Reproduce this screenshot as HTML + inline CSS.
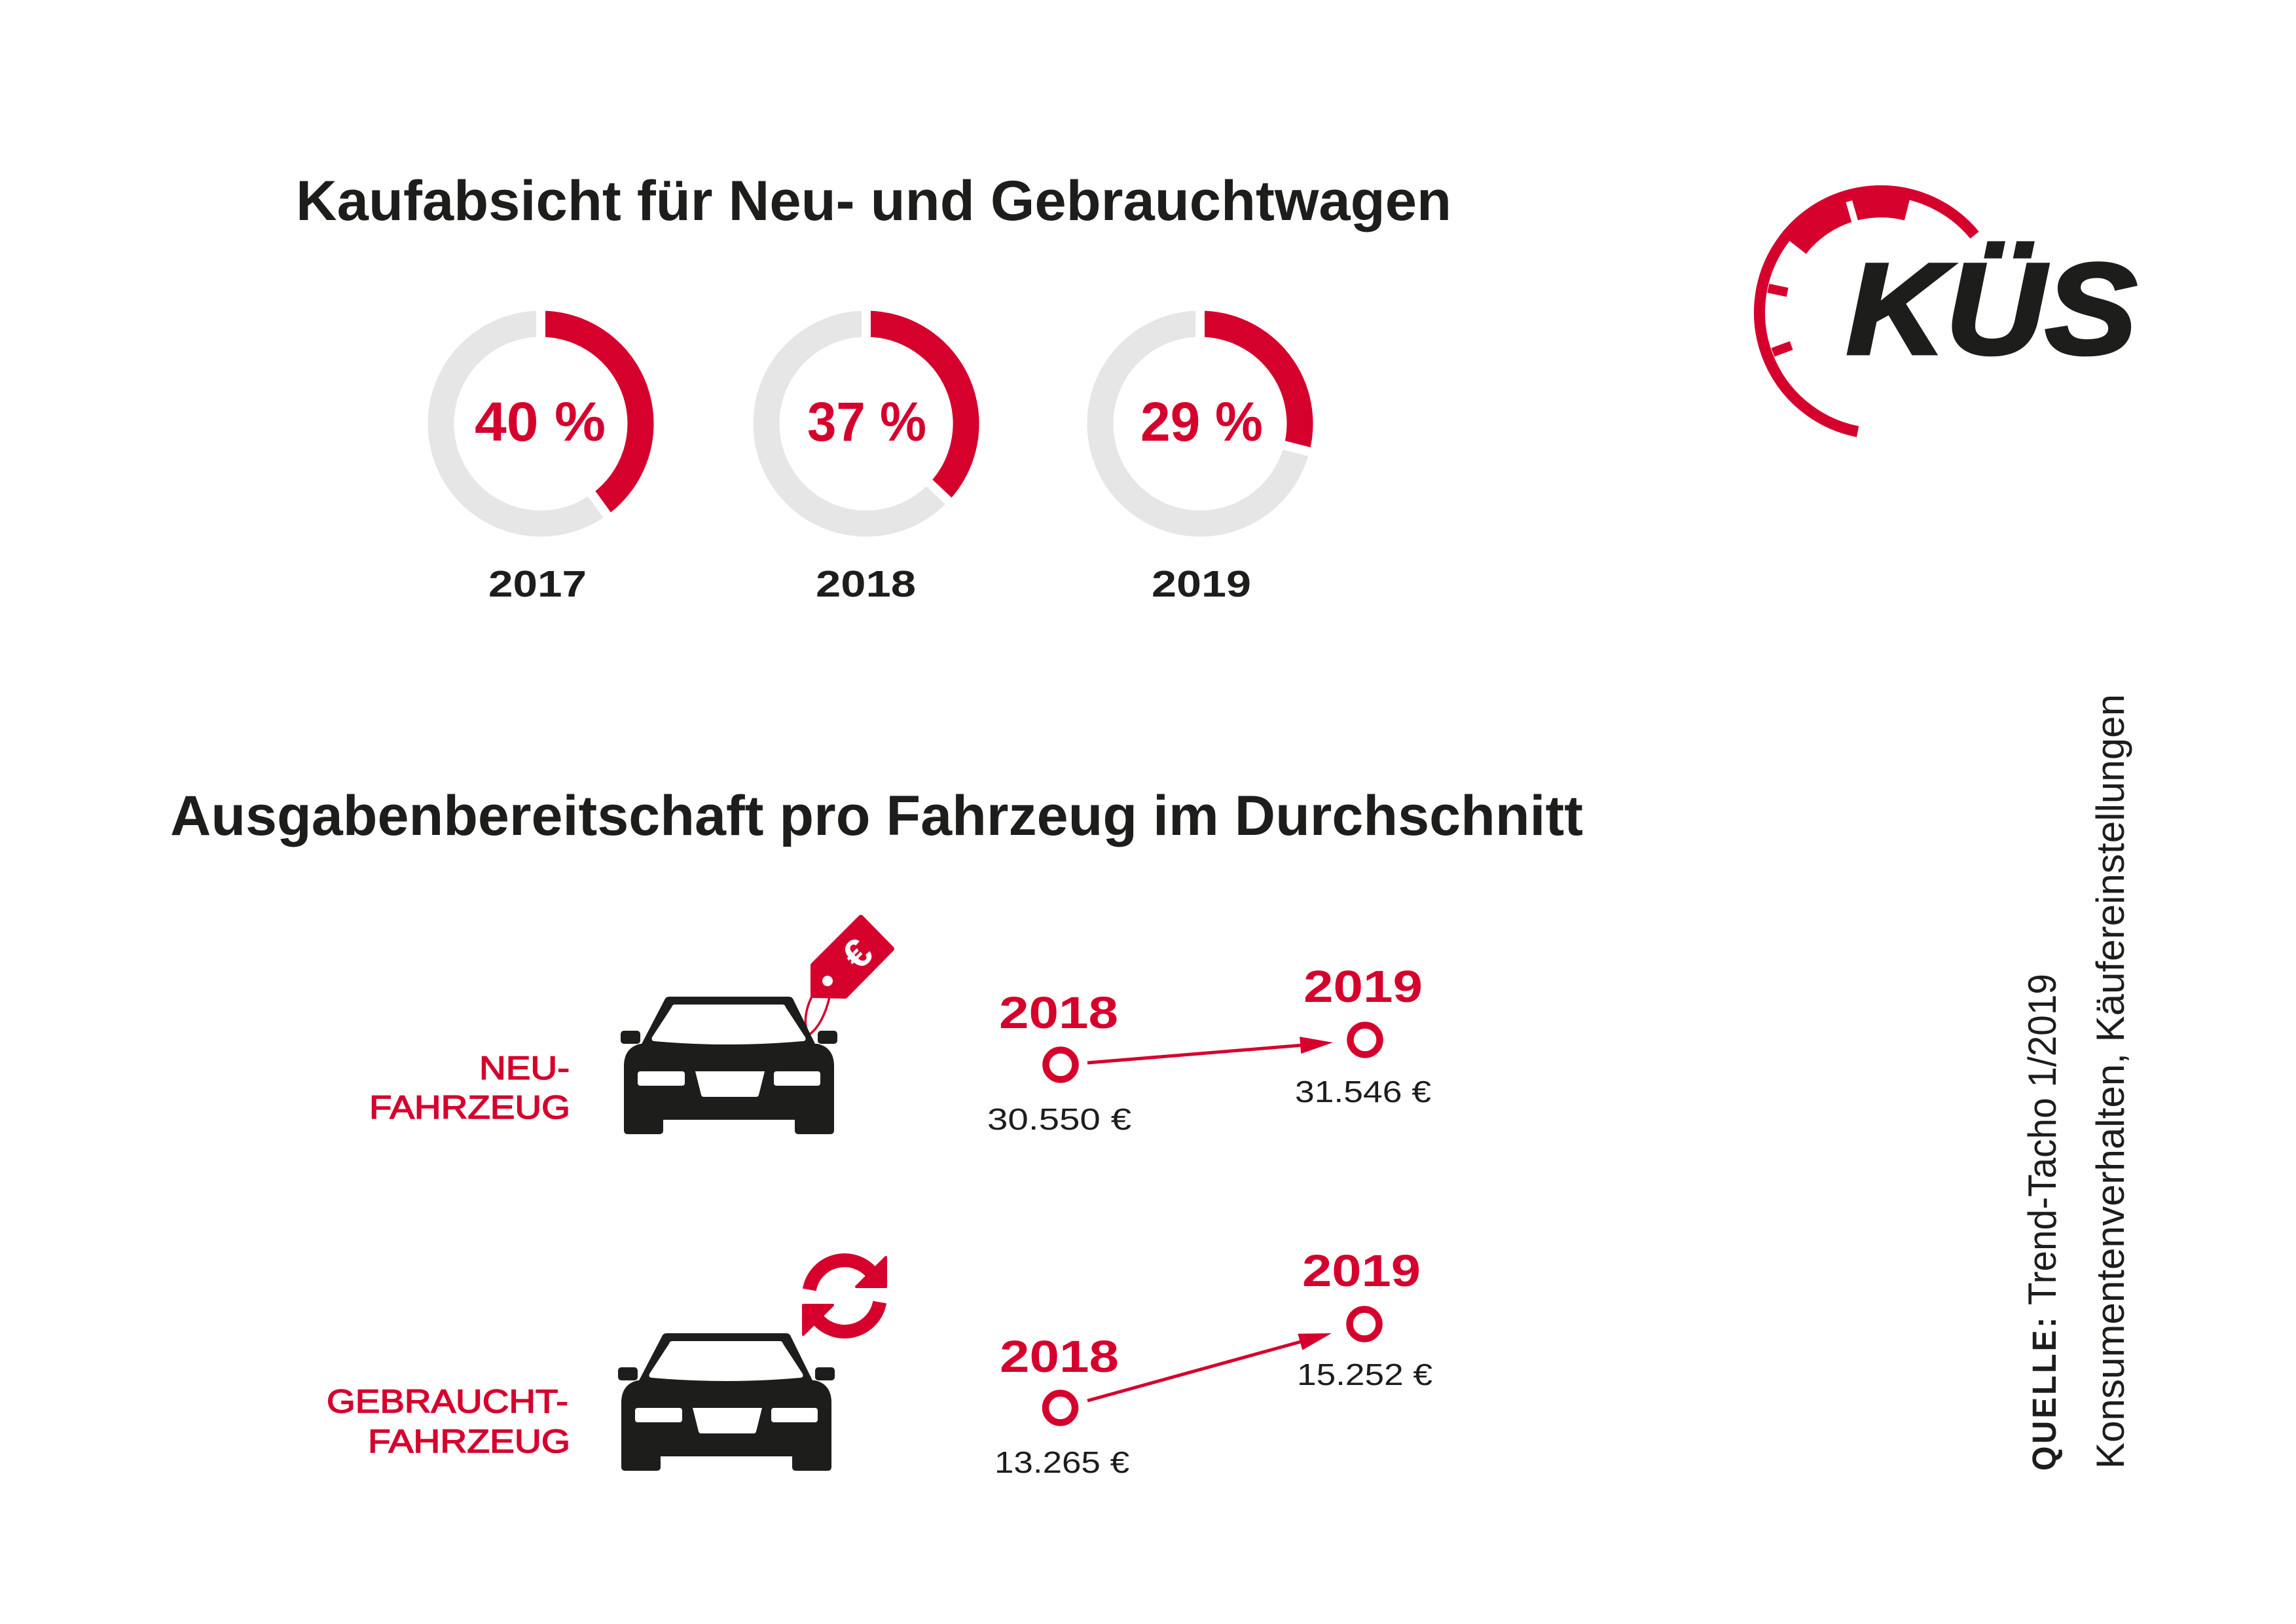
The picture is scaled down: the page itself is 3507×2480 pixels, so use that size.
<!DOCTYPE html>
<html>
<head>
<meta charset="utf-8">
<style>
html,body{margin:0;padding:0;background:#fff;}
svg{display:block;}
text{font-family:"Liberation Sans",sans-serif;}
</style>
</head>
<body>
<svg width="3507" height="2480" viewBox="0 0 3507 2480" xmlns="http://www.w3.org/2000/svg">
<rect width="3507" height="2480" fill="#fff"/>

<!-- ===== Title 1 ===== -->
<text x="452" y="336" font-size="86" font-weight="bold" fill="#1d1d1b" textLength="1765" lengthAdjust="spacingAndGlyphs">Kaufabsicht für Neu- und Gebrauchtwagen</text>

<!-- ===== Donuts ===== -->
<g fill="none" stroke-width="40">
  <circle cx="826" cy="647" r="152.5" stroke="#e6e6e6"/>
  <path d="M826,494.5 A152.5,152.5 0 0 1 915.6,770.4" stroke="#d6002d"/>
  <circle cx="1323" cy="647" r="152.5" stroke="#e6e6e6"/>
  <path d="M1323,494.5 A152.5,152.5 0 0 1 1434.2,751.4" stroke="#d6002d"/>
  <circle cx="1833" cy="647" r="152.5" stroke="#e6e6e6"/>
  <path d="M1833,494.5 A152.5,152.5 0 0 1 1980.7,684.9" stroke="#d6002d"/>
</g>
<g stroke="#fff" stroke-width="14">
  <line x1="826" y1="527" x2="826" y2="462"/>
  <line x1="896.5" y1="744.1" x2="934.7" y2="796.7"/>
  <line x1="1323" y1="527" x2="1323" y2="462"/>
  <line x1="1410.5" y1="729.1" x2="1457.9" y2="773.6"/>
  <line x1="1833" y1="527" x2="1833" y2="462"/>
  <line x1="1949.2" y1="676.8" x2="2012.2" y2="693.0"/>
</g>
<g font-size="84" font-weight="bold" fill="#d6002d">
  <text x="725" y="673" textLength="200" lengthAdjust="spacingAndGlyphs">40 %</text>
  <text x="1233" y="673" textLength="182" lengthAdjust="spacingAndGlyphs">37 %</text>
  <text x="1742" y="673" textLength="187" lengthAdjust="spacingAndGlyphs">29 %</text>
</g>
<g font-size="57" font-weight="bold" fill="#1d1d1b">
  <text x="746" y="911" textLength="150" lengthAdjust="spacingAndGlyphs">2017</text>
  <text x="1246" y="911" textLength="153" lengthAdjust="spacingAndGlyphs">2018</text>
  <text x="1759" y="911" textLength="152" lengthAdjust="spacingAndGlyphs">2019</text>
</g>

<!-- ===== Logo ===== -->
<g fill="none" stroke="#d6002d">
  <path d="M3016.1,359 A185.5,185.5 0 1 0 2837.6,659.1" stroke-width="17"/>
  <path d="M2739.4,372.6 A169.5,169.5 0 0 1 2914.9,312.8" stroke-width="49"/>
  <line x1="2700.9" y1="440.1" x2="2730.2" y2="446.4" stroke-width="14"/>
  <line x1="2707.9" y1="538.1" x2="2736.1" y2="527.6" stroke-width="14"/>
</g>
<line x1="2834.4" y1="342.4" x2="2824.3" y2="307.4" stroke="#fff" stroke-width="10"/>
<text x="2820" y="540" font-size="198" font-weight="bold" font-style="italic" fill="#1d1d1b" stroke="#1d1d1b" stroke-width="5" textLength="444" lengthAdjust="spacingAndGlyphs">KÜS</text>

<!-- ===== Title 2 ===== -->
<text x="260" y="1275" font-size="86" font-weight="bold" fill="#1d1d1b" textLength="2158" lengthAdjust="spacingAndGlyphs">Ausgabenbereitschaft pro Fahrzeug im Durchschnitt</text>

<!-- ===== Labels ===== -->
<g font-size="50" fill="#d6002d" stroke="#d6002d" stroke-width="1.5">
  <text x="732" y="1648" textLength="138" lengthAdjust="spacingAndGlyphs">NEU-</text>
  <text x="564" y="1708" textLength="307" lengthAdjust="spacingAndGlyphs">FAHRZEUG</text>
  <text x="499" y="2157" textLength="369" lengthAdjust="spacingAndGlyphs">GEBRAUCHT-</text>
  <text x="562" y="2218" textLength="309" lengthAdjust="spacingAndGlyphs">FAHRZEUG</text>
</g>

<!-- ===== Price tag string ===== -->
<path d="M1242,1518 C1230,1540 1226,1566 1236,1580 C1250,1570 1262,1548 1268,1518" fill="none" stroke="#d6002d" stroke-width="3.5"/>

<!-- ===== Car 1 ===== -->
<g>
  <g fill="#1d1d1b">
    <path d="M1022,1522 L1205,1522 Q1210,1522 1212,1527 L1247,1598 L978,1598 L1015,1527 Q1017,1522 1022,1522 Z"/>
    <rect x="948" y="1574" width="30" height="20" rx="5"/>
    <rect x="1249" y="1574" width="30" height="20" rx="5"/>
    <path d="M953,1710 L953,1628 Q953,1600 978,1594 L1249,1594 Q1274,1600 1274,1628 L1274,1710 Z"/>
    <path d="M953,1700 L1013,1700 L1013,1726 Q1013,1732 1007,1732 L959,1732 Q953,1732 953,1726 Z"/>
    <path d="M1214,1700 L1274,1700 L1274,1726 Q1274,1732 1268,1732 L1220,1732 Q1214,1732 1214,1726 Z"/>
  </g>
  <g fill="#fff">
    <path d="M1031,1534 L1195,1534 Q1199,1534 1200,1538 L1230,1584 Q1232,1590 1226,1590 Q1113,1600 1000,1590 Q994,1590 996,1584 L1026,1538 Q1027,1534 1031,1534 Z"/>
    <rect x="974" y="1636" width="72" height="22" rx="4"/>
    <rect x="1182" y="1636" width="71" height="22" rx="4"/>
    <path d="M1062,1636 L1168,1636 L1159,1672 Q1158,1675 1155,1675 L1075,1675 Q1072,1675 1071,1672 Z"/>
  </g>
</g>

<!-- ===== Price tag ===== -->
<polygon points="1315,1401 1362,1449 1291,1521 1242,1520 1242,1474" fill="#d6002d" stroke="#d6002d" stroke-width="8" stroke-linejoin="round"/>
<text transform="translate(1309,1456) rotate(-45)" x="0" y="22" text-anchor="middle" font-size="62" font-weight="bold" fill="#fff">€</text>
<circle cx="1264" cy="1498" r="8" fill="#fff"/>

<!-- ===== Car 2 ===== -->
<g transform="translate(-4,514)">
  <g fill="#1d1d1b">
    <path d="M1022,1522 L1205,1522 Q1210,1522 1212,1527 L1247,1598 L978,1598 L1015,1527 Q1017,1522 1022,1522 Z"/>
    <rect x="948" y="1574" width="30" height="20" rx="5"/>
    <rect x="1249" y="1574" width="30" height="20" rx="5"/>
    <path d="M953,1710 L953,1628 Q953,1600 978,1594 L1249,1594 Q1274,1600 1274,1628 L1274,1710 Z"/>
    <path d="M953,1700 L1013,1700 L1013,1726 Q1013,1732 1007,1732 L959,1732 Q953,1732 953,1726 Z"/>
    <path d="M1214,1700 L1274,1700 L1274,1726 Q1274,1732 1268,1732 L1220,1732 Q1214,1732 1214,1726 Z"/>
  </g>
  <g fill="#fff">
    <path d="M1031,1534 L1195,1534 Q1199,1534 1200,1538 L1230,1584 Q1232,1590 1226,1590 Q1113,1600 1000,1590 Q994,1590 996,1584 L1026,1538 Q1027,1534 1031,1534 Z"/>
    <rect x="974" y="1636" width="72" height="22" rx="4"/>
    <rect x="1182" y="1636" width="71" height="22" rx="4"/>
    <path d="M1062,1636 L1168,1636 L1159,1672 Q1158,1675 1155,1675 L1075,1675 Q1072,1675 1071,1672 Z"/>
  </g>
</g>

<!-- ===== Refresh icon ===== -->
<g fill="none" stroke="#d6002d" stroke-width="21">
  <path d="M1236.3,1969.5 A54.5,54.5 0 0 1 1331.7,1944"/>
  <path d="M1343.7,1988.5 A54.5,54.5 0 0 1 1248.3,2014"/>
</g>
<g fill="#d6002d" stroke="#d6002d" stroke-width="4" stroke-linejoin="round">
  <polygon points="1308,1965 1353,1965 1353,1920"/>
  <polygon points="1272,1993 1227,1993 1227,2038"/>
</g>

<!-- ===== Arrows ===== -->
<g fill="none" stroke="#d6002d">
  <circle cx="1620" cy="1626" r="22.5" stroke-width="10.5"/>
  <circle cx="2085" cy="1588" r="22.5" stroke-width="10.5"/>
  <line x1="1661" y1="1623" x2="1990" y2="1596" stroke-width="5"/>
  <circle cx="1619.5" cy="2150" r="22.5" stroke-width="10.5"/>
  <circle cx="2084" cy="2022" r="22.5" stroke-width="10.5"/>
  <line x1="1661" y1="2139" x2="1990" y2="2048" stroke-width="5"/>
</g>
<g fill="#d6002d">
  <polygon points="2036,1592 1987.3,1609.1 1985.1,1583.1"/>
  <polygon points="2034,2036 1989.3,2061.8 1982.3,2036.8"/>
</g>
<g font-size="69" font-weight="bold" fill="#d6002d">
  <text x="1526" y="1570" textLength="182" lengthAdjust="spacingAndGlyphs">2018</text>
  <text x="1991" y="1530" textLength="182" lengthAdjust="spacingAndGlyphs">2019</text>
  <text x="1527" y="2095" textLength="182" lengthAdjust="spacingAndGlyphs">2018</text>
  <text x="1989" y="1964" textLength="181" lengthAdjust="spacingAndGlyphs">2019</text>
</g>
<g font-size="46" fill="#1d1d1b">
  <text x="1508" y="1725" textLength="220" lengthAdjust="spacingAndGlyphs">30.550 €</text>
  <text x="1978" y="1683" textLength="208" lengthAdjust="spacingAndGlyphs">31.546 €</text>
  <text x="1519" y="2249" textLength="206" lengthAdjust="spacingAndGlyphs">13.265 €</text>
  <text x="1981" y="2115" textLength="207" lengthAdjust="spacingAndGlyphs">15.252 €</text>
</g>

<!-- ===== Source (vertical) ===== -->
<text transform="translate(3140,2246) rotate(-90)" font-size="60" fill="#1d1d1b" textLength="759" lengthAdjust="spacingAndGlyphs"><tspan font-size="51" font-weight="bold" letter-spacing="4">QUELLE:</tspan> Trend-Tacho 1/2019</text>
<text transform="translate(3244,2243) rotate(-90)" font-size="60" fill="#1d1d1b" textLength="1183" lengthAdjust="spacingAndGlyphs">Konsumentenverhalten, Käufereinstellungen</text>

</svg>
</body>
</html>
